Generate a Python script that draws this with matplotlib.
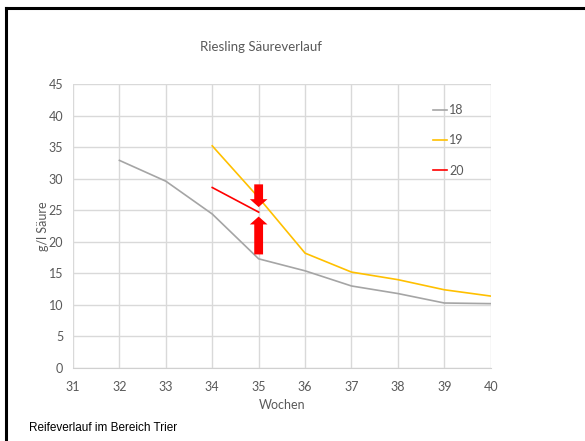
import matplotlib
matplotlib.use('Agg')
import matplotlib.pyplot as plt
from matplotlib.lines import Line2D

weeks18 = [32, 33, 34, 35, 36, 37, 38, 39, 40]
acid18 = [32.9, 29.6, 24.4, 17.3, 15.4, 13.0, 11.8, 10.3, 10.2]
weeks19 = [34, 35, 36, 37, 38, 39, 40]
acid19 = [35.2, 27.0, 18.2, 15.2, 14.0, 12.4, 11.4]
weeks20 = [34, 35]
acid20 = [28.6, 24.7]

# arrows at week 35: (start, tip)
arrow_down = (29.1, 25.5)
arrow_up = (18.0, 24.0)

plt.rcParams['font.family'] = ['Lato', 'DejaVu Sans']
txt = '#595959'

fig = plt.figure(figsize=(5.85, 4.41), dpi=100)
ax = fig.add_axes([0.1248, 0.1655, 0.714, 0.644])

ax.plot(weeks18, acid18, color='#a5a5a5', lw=1.2, label='18')
ax.plot(weeks19, acid19, color='#ffc000', lw=1.2, label='19')
ax.plot(weeks20, acid20, color='#ff0000', lw=1.2, label='20')

for y0, y1 in (arrow_down, arrow_up):
    ax.arrow(35, y0, 0, y1 - y0, width=0.19, head_width=0.38, head_length=1.25,
             length_includes_head=True, color='#ff0000', lw=0, zorder=5)

ax.set_xlim(31, 40)
ax.set_ylim(0, 45)
ax.set_xticks(range(31, 41))
ax.set_yticks(range(0, 46, 5))
ax.grid(True, color='#d9d9d9', lw=1)
ax.set_axisbelow(True)
for s in ax.spines.values():
    s.set_visible(False)
ax.spines['bottom'].set_visible(True)
ax.spines['bottom'].set_color('#d0d0d0')
ax.tick_params(length=0, labelsize=9, colors=txt, pad=9)
ax.tick_params(axis='y', pad=7)

fig.text(0.446, 0.893, 'Riesling Säureverlauf', fontsize=9.5, color=txt,
         ha='center', va='center')
ax.set_xlabel('Wochen', fontsize=9, color=txt, labelpad=5)
ax.set_ylabel('g/l Säure', fontsize=9, color=txt, labelpad=0)

leg = ax.legend(loc='upper right', bbox_to_anchor=(0.962, 0.968), frameon=False,
                fontsize=9, handlelength=1.1, handletextpad=0.2, labelspacing=1.45,
                labelcolor=txt)

fig.text(0.05, 0.022, 'Reifeverlauf im Bereich Trier', fontsize=8.5,
         family=['Liberation Sans', 'DejaVu Sans'], color='black')

# frame lines along top and left edge
fig.add_artist(Line2D([0.011, 1.0], [0.982, 0.982], color='black', lw=2.2,
                      transform=fig.transFigure))
fig.add_artist(Line2D([0.011, 0.011], [0.0, 0.982], color='black', lw=2.2,
                      transform=fig.transFigure))

fig.savefig('out.png', dpi=100)
